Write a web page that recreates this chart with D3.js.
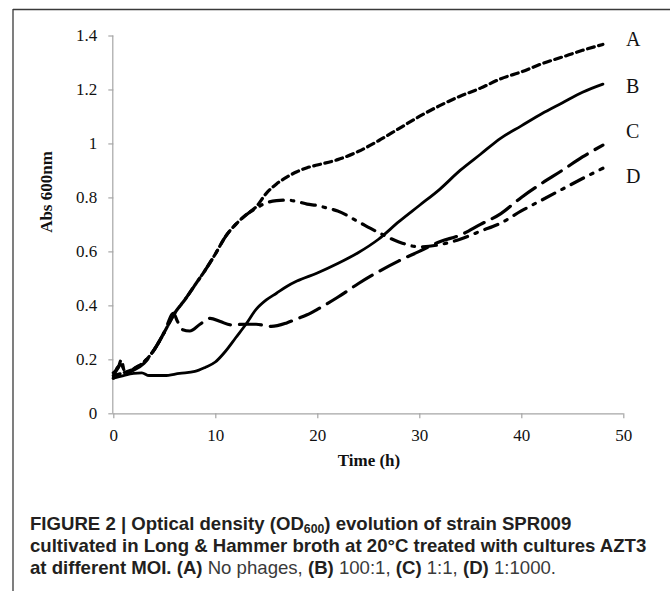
<!DOCTYPE html>
<html>
<head>
<meta charset="utf-8">
<script src="https://cdn.jsdelivr.net/npm/d3@7/dist/d3.min.js"></script>
<style>
  html, body { margin: 0; padding: 0; background: #fff; }
  svg { display: block; }
</style>
</head>
<body>
<svg id="chart" width="670" height="591"></svg>
<script>
// ---------------- DATA ----------------
const seriesNames = ["A", "B", "C", "D"];
const xTicks = [0, 10, 20, 30, 40, 50];
const yTicks = [0, 0.2, 0.4, 0.6, 0.8, 1, 1.2, 1.4];
const xTitle = "Time (h)";
const yTitle = "Abs 600nm";

// A: no phages
const timeA = [0,1,2,3,4,5,6,7,8,9,10,11,12,13,14,15,16,17,18,19,20,22,24,26,28,30,32,34,36,38,40,42,44,46,48];
const odA   = [0.14,0.15,0.165,0.19,0.235,0.3,0.37,0.42,0.475,0.53,0.59,0.655,0.7,0.735,0.765,0.815,0.85,0.875,0.895,0.91,0.92,0.94,0.97,1.01,1.055,1.1,1.14,1.175,1.205,1.24,1.265,1.295,1.32,1.345,1.367];

// B: 100:1
const timeB = [0,1,2,2.8,3.5,5,6.5,8,9,10,11,12,13,14,15,16,17,18,20,22,24,26,28,30,32,34,36,38,40,42,44,46,48];
const odB   = [0.13,0.14,0.148,0.15,0.14,0.14,0.148,0.155,0.17,0.19,0.23,0.28,0.33,0.385,0.42,0.445,0.47,0.49,0.52,0.555,0.595,0.645,0.71,0.77,0.83,0.9,0.96,1.02,1.065,1.11,1.15,1.19,1.22];

// C: 1:1
const timeC = [0,0.4,0.8,1.2,2,3,4,5,5.9,6.3,6.8,7.5,8.5,9.5,10.5,11.5,13,14,15.5,17,18,19,20,22,24,26,28,30,32,34,36,38,40,42,44,46,48];
const odC   = [0.13,0.17,0.18,0.15,0.16,0.185,0.235,0.3,0.37,0.34,0.31,0.305,0.33,0.352,0.34,0.328,0.33,0.33,0.322,0.335,0.35,0.365,0.385,0.43,0.48,0.525,0.565,0.6,0.636,0.66,0.7,0.74,0.8,0.852,0.9,0.95,0.994];

// D: 1:1000
const timeD = [0,0.5,0.8,1.1,1.5,2,3,4,5,6,7,8,9,10,11,12,13,14,15,16,17,18,19,20,21,22,24,26,28,30,32,34,36,38,40,42,44,46,48];
const odD   = [0.15,0.17,0.2,0.15,0.15,0.165,0.19,0.235,0.3,0.37,0.42,0.475,0.53,0.59,0.655,0.7,0.735,0.76,0.78,0.788,0.79,0.785,0.775,0.77,0.76,0.75,0.71,0.67,0.635,0.617,0.625,0.645,0.675,0.705,0.75,0.79,0.83,0.87,0.908];

// ---------------- LAYOUT ----------------
const svg = d3.select("#chart");
const X0 = 113.3, X1 = 623.3, Y0 = 413.3, Y1 = 35.5;
const x = d3.scaleLinear().domain([0, 50]).range([X0, X1]);
const y = d3.scaleLinear().domain([0, 1.4]).range([Y0, Y1]);

// outer frame (top + left, cropped on right/bottom)
svg.append("line").attr("x1", 13).attr("x2", 670).attr("y1", 9.5).attr("y2", 9.5)
  .attr("stroke", "#3a3a3a").attr("stroke-width", 1.3);
svg.append("line").attr("x1", 13).attr("x2", 13).attr("y1", 9).attr("y2", 591)
  .attr("stroke", "#3a3a3a").attr("stroke-width", 1.3);

const serif = "'Liberation Serif', 'Times New Roman', serif";
const axisColor = "#a6a6a6";

// Y axis
const yAxis = svg.append("g").attr("transform", `translate(${X0},0)`)
  .call(d3.axisLeft(y).tickValues(yTicks).tickSize(5).tickPadding(11)
    .tickFormat(d => d3.format("~g")(d)));
// X axis
const xAxis = svg.append("g").attr("transform", `translate(0,${Y0})`)
  .call(d3.axisBottom(x).tickValues(xTicks).tickSize(5).tickPadding(11)
    .tickFormat(d3.format("d")));

[yAxis, xAxis].forEach(g => {
  g.selectAll("path.domain").attr("stroke", axisColor).attr("stroke-width", 1.2);
  g.selectAll(".tick line").attr("stroke", axisColor).attr("stroke-width", 1.2);
  g.selectAll(".tick text").attr("font-family", serif).attr("font-size", 17).attr("fill", "#111");
});
xAxis.select("path.domain").attr("d", `M${X0},0.5H${X1}`);
yAxis.select("path.domain").attr("d", `M-0.5,${Y0}V${Y1}`);

// axis titles
svg.append("text").attr("x", 369).attr("y", 466).attr("text-anchor", "middle")
  .attr("font-family", serif).attr("font-weight", "bold").attr("font-size", 17)
  .attr("fill", "#111").text(xTitle);
svg.append("text").attr("transform", "translate(52,192) rotate(-90)").attr("text-anchor", "middle")
  .attr("font-family", serif).attr("font-weight", "bold").attr("font-size", 17)
  .attr("fill", "#111").text(yTitle);

// series
const series = [
  { name: seriesNames[0], t: timeA, v: odA, dash: "7,4.5", w: 3.2 },
  { name: seriesNames[1], t: timeB, v: odB, dash: null, w: 2.8 },
  { name: seriesNames[2], t: timeC, v: odC, dash: "22,9", w: 3.2 },
  { name: seriesNames[3], t: timeD, v: odD, dash: "14,8,2.5,8", w: 3.2 },
];
const line = d3.line().x(d => x(d[0])).y(d => y(d[1])).curve(d3.curveMonotoneX);
series.forEach(s => {
  const pts = s.t.map((t, i) => [t, s.v[i]]);
  svg.append("path").datum(pts).attr("d", line)
    .attr("fill", "none").attr("stroke", "#000").attr("stroke-width", s.w)
    .attr("stroke-linecap", "round").attr("stroke-linejoin", "round")
    .attr("stroke-dasharray", s.dash);
});

// series labels
const labelY = [46, 92.5, 138, 183];
series.forEach((s, i) => {
  svg.append("text").attr("x", 626).attr("y", labelY[i])
    .attr("font-family", serif).attr("font-size", 20).attr("fill", "#111").text(s.name);
});

// caption
const sans = "'Liberation Sans', Arial, Helvetica, sans-serif";
const capX = 30, capFs = 18.6, capColor = "#231f20";
const cap = svg.append("g").attr("font-family", sans).attr("font-size", capFs).attr("fill", capColor);

const l1 = cap.append("text").attr("x", capX).attr("y", 530).attr("font-weight", "bold");
l1.append("tspan").text("FIGURE 2 | Optical density (OD");
l1.append("tspan").attr("font-size", capFs * 0.66).attr("dy", 3).text("600");
l1.append("tspan").attr("dy", -3).text(") evolution of strain SPR009");

cap.append("text").attr("x", capX).attr("y", 552).attr("font-weight", "bold")
  .text("cultivated in Long & Hammer broth at 20°C treated with cultures AZT3");

const l3 = cap.append("text").attr("x", capX).attr("y", 574);
const parts3 = [
  ["at different MOI. (A)", true], [" No phages, ", false], ["(B)", true], [" 100:1, ", false],
  ["(C)", true], [" 1:1, ", false], ["(D)", true], [" 1:1000.", false]
];
parts3.forEach(p => {
  l3.append("tspan").attr("font-weight", p[1] ? "bold" : "normal")
    .attr("fill", p[1] ? capColor : "#3a3a3a").text(p[0]);
});
</script>
</body>
</html>
